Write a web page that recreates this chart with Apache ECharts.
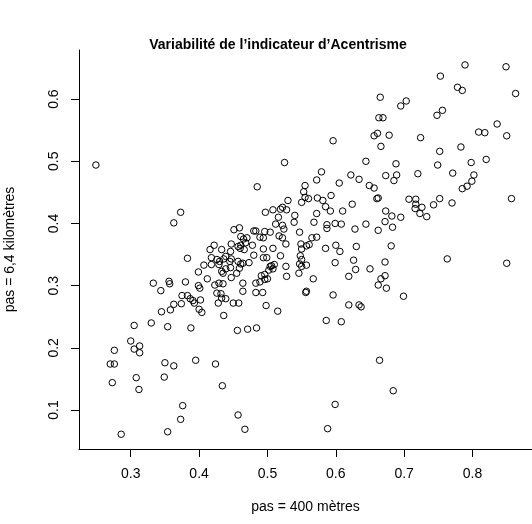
<!DOCTYPE html>
<html>
<head>
<meta charset="utf-8">
<script src="https://cdn.jsdelivr.net/npm/echarts@6/dist/echarts.min.js"></script>
<style>
  html, body { margin: 0; padding: 0; background: #fff; }
  #main { width: 532px; height: 524px; }
</style>
</head>
<body>
<div id="main"></div>
<script>
// points: [pas 400 m, pas 6,4 km]
var points = [
  [0.249, 0.494],
  [0.596, 0.533], [0.525, 0.498], [0.485, 0.459], [0.644, 0.500], [0.579, 0.483],
  [0.572, 0.470], [0.605, 0.465], [0.622, 0.478], [0.634, 0.471], [0.649, 0.461],
  [0.555, 0.461], [0.553, 0.451], [0.555, 0.442], [0.573, 0.441], [0.593, 0.445],
  [0.581, 0.437], [0.530, 0.437],
  [0.789, 0.655], [0.849, 0.652],
  [0.753, 0.637], [0.778, 0.619], [0.785, 0.614], [0.863, 0.609], [0.665, 0.603],
  [0.703, 0.597], [0.695, 0.589], [0.756, 0.582], [0.748, 0.574], [0.663, 0.570],
  [0.669, 0.570], [0.836, 0.560], [0.809, 0.547], [0.818, 0.546], [0.850, 0.541],
  [0.656, 0.541], [0.661, 0.545], [0.678, 0.542], [0.724, 0.538], [0.666, 0.524],
  [0.752, 0.516], [0.783, 0.523], [0.688, 0.496], [0.749, 0.494], [0.798, 0.498],
  [0.820, 0.503], [0.673, 0.477], [0.689, 0.478], [0.685, 0.469], [0.720, 0.480],
  [0.771, 0.481], [0.802, 0.478], [0.799, 0.468], [0.792, 0.460], [0.785, 0.456],
  [0.656, 0.457], [0.662, 0.441], [0.660, 0.440], [0.707, 0.439], [0.717, 0.439],
  [0.752, 0.440], [0.857, 0.440],
  [0.717, 0.431], [0.716, 0.424], [0.726, 0.426], [0.723, 0.416], [0.733, 0.411],
  [0.743, 0.430], [0.770, 0.433], [0.673, 0.420], [0.682, 0.412], [0.695, 0.410],
  [0.672, 0.403], [0.662, 0.389], [0.683, 0.394], [0.644, 0.399], [0.681, 0.364],
  [0.763, 0.343], [0.850, 0.336], [0.672, 0.338], [0.650, 0.327], [0.672, 0.316],
  [0.666, 0.311], [0.662, 0.301], [0.674, 0.296], [0.699, 0.283],
  [0.664, 0.180], [0.684, 0.131],
  [0.456, 0.228], [0.471, 0.230], [0.484, 0.232], [0.586, 0.244], [0.608, 0.242],
  [0.424, 0.174], [0.434, 0.139], [0.599, 0.109], [0.457, 0.092], [0.467, 0.069],
  [0.588, 0.070],
  [0.305, 0.236], [0.330, 0.240], [0.354, 0.234], [0.388, 0.232], [0.300, 0.211],
  [0.276, 0.196], [0.305, 0.198], [0.313, 0.203], [0.313, 0.192], [0.270, 0.174],
  [0.276, 0.174], [0.350, 0.176], [0.363, 0.171], [0.395, 0.180], [0.273, 0.144],
  [0.308, 0.152], [0.349, 0.153], [0.312, 0.133], [0.376, 0.107], [0.373, 0.085],
  [0.354, 0.065], [0.286, 0.061],
  [0.373, 0.418], [0.363, 0.401], [0.383, 0.344], [0.422, 0.365], [0.407, 0.333],
  [0.399, 0.322], [0.412, 0.311], [0.333, 0.304], [0.356, 0.307], [0.357, 0.303],
  [0.380, 0.306], [0.344, 0.292], [0.399, 0.300], [0.401, 0.296], [0.375, 0.284],
  [0.383, 0.284], [0.387, 0.279], [0.391, 0.276], [0.393, 0.272], [0.402, 0.277],
  [0.363, 0.270], [0.374, 0.271], [0.358, 0.261], [0.345, 0.258], [0.400, 0.262],
  [0.404, 0.257],
  [0.550, 0.434], [0.560, 0.440], [0.585, 0.427], [0.592, 0.420], [0.624, 0.431],
  [0.610, 0.420], [0.519, 0.423], [0.522, 0.426], [0.528, 0.422], [0.508, 0.422],
  [0.497, 0.418], [0.540, 0.413], [0.572, 0.416], [0.516, 0.410], [0.539, 0.402],
  [0.568, 0.402], [0.587, 0.398], [0.587, 0.392], [0.599, 0.400], [0.608, 0.399],
  [0.628, 0.391], [0.512, 0.399], [0.522, 0.397], [0.524, 0.391], [0.504, 0.386],
  [0.547, 0.386], [0.565, 0.377], [0.572, 0.378], [0.517, 0.380], [0.522, 0.377],
  [0.483, 0.388], [0.480, 0.388], [0.496, 0.387], [0.451, 0.390], [0.459, 0.393],
  [0.461, 0.379], [0.465, 0.375], [0.470, 0.377], [0.489, 0.378], [0.494, 0.377],
  [0.447, 0.367], [0.457, 0.363], [0.460, 0.360], [0.461, 0.365], [0.478, 0.365],
  [0.468, 0.369], [0.494, 0.359], [0.508, 0.360], [0.527, 0.367], [0.549, 0.367],
  [0.550, 0.359], [0.557, 0.364], [0.561, 0.366], [0.585, 0.360], [0.600, 0.365],
  [0.606, 0.355], [0.630, 0.363], [0.416, 0.358], [0.433, 0.358], [0.446, 0.355],
  [0.466, 0.358], [0.480, 0.349], [0.494, 0.345], [0.499, 0.345], [0.519, 0.348],
  [0.548, 0.348], [0.550, 0.342], [0.418, 0.345], [0.426, 0.342], [0.430, 0.339],
  [0.436, 0.343], [0.439, 0.347], [0.445, 0.339], [0.447, 0.343], [0.457, 0.339],
  [0.461, 0.335], [0.464, 0.336], [0.473, 0.337], [0.418, 0.334], [0.429, 0.334],
  [0.433, 0.323], [0.435, 0.320], [0.446, 0.329], [0.439, 0.327], [0.459, 0.328],
  [0.455, 0.320], [0.447, 0.313], [0.506, 0.332], [0.504, 0.331], [0.510, 0.334],
  [0.508, 0.327], [0.502, 0.325], [0.496, 0.318], [0.527, 0.331], [0.528, 0.315],
  [0.547, 0.335], [0.550, 0.331], [0.557, 0.333], [0.546, 0.320], [0.567, 0.311],
  [0.599, 0.337], [0.629, 0.326], [0.626, 0.341], [0.619, 0.315], [0.491, 0.316],
  [0.500, 0.311], [0.489, 0.306], [0.496, 0.310], [0.483, 0.304], [0.464, 0.304],
  [0.464, 0.291], [0.483, 0.289], [0.493, 0.289], [0.556, 0.289], [0.557, 0.291],
  [0.596, 0.285], [0.426, 0.288], [0.429, 0.304], [0.435, 0.303], [0.423, 0.301],
  [0.432, 0.287], [0.433, 0.280], [0.428, 0.272], [0.439, 0.279], [0.450, 0.272],
  [0.458, 0.272], [0.436, 0.252], [0.498, 0.268], [0.515, 0.259], [0.619, 0.269],
  [0.634, 0.269], [0.637, 0.266]
];

var xTicks = [0.3, 0.4, 0.5, 0.6, 0.7, 0.8];
var yTicks = [0.1, 0.2, 0.3, 0.4, 0.5, 0.6];

var titleText = 'Variabilité de l’indicateur d’Acentrisme';
var xName = 'pas = 400 mètres';
var yName = 'pas = 6,4 kilomètres';

var font = 'Liberation Sans, Arial, Helvetica, sans-serif';
var chart = echarts.init(document.getElementById('main'));

var axisCommon = {
  type: 'value',
  nameLocation: 'middle',
  nameTextStyle: { color: '#000', fontSize: 14, fontFamily: font },
  splitLine: { show: false },
  axisLine: { show: true, lineStyle: { color: '#000', width: 1 } },
  axisTick: { show: true, length: 8, lineStyle: { color: '#000', width: 1 } },
  axisLabel: { color: '#000', fontSize: 14, fontFamily: font }
};

chart.setOption({
  animation: false,
  backgroundColor: '#fff',
  graphic: [{
    type: 'text',
    x: 278, y: 45,
    style: {
      text: titleText, fill: '#000', fontSize: 14, fontWeight: 'bold',
      fontFamily: font, textAlign: 'center', textVerticalAlign: 'middle'
    }
  }],
  grid: { left: 79, right: 0, top: 50, bottom: 75, outerBoundsMode: 'none' },
  xAxis: echarts.util.merge({
    min: 0.2243, max: 0.887,
    name: xName, nameGap: 51,
    axisTick: { customValues: xTicks },
    axisLabel: { customValues: xTicks, margin: 18, formatter: function (v) { return v.toFixed(1); } }
  }, axisCommon),
  yAxis: echarts.util.merge({
    min: 0.0373, max: 0.679,
    name: yName, nameGap: 62,
    axisTick: { customValues: yTicks },
    axisLabel: { customValues: yTicks, rotate: 90, margin: 18, formatter: function (v) { return v.toFixed(1); } }
  }, axisCommon),
  series: [{
    type: 'scatter',
    data: points,
    symbol: 'circle',
    symbolSize: 6.5,
    itemStyle: { color: 'rgba(0,0,0,0)', borderColor: '#000', borderWidth: 1, opacity: 1 },
    emphasis: { disabled: true }
  }]
});
</script>
</body>
</html>
